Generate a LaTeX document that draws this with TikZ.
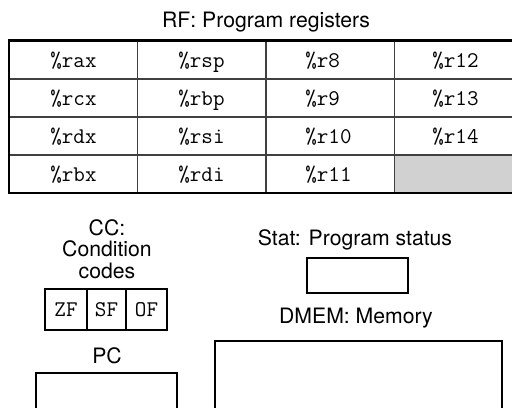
\documentclass[tikz,border=0pt]{standalone}
\usepackage{fontspec}
\newfontfamily\helv{TeX Gyre Heros}
\usepackage{tikz}

\begin{document}
\begin{tikzpicture}[x=0.5pt,y=-0.5pt,
  lbl/.style={anchor=base,inner sep=0pt,font=\helv\fontsize{10.6}{12.7}\selectfont},
  reg/.style={anchor=base west,inner sep=0pt,font=\ttfamily\fontsize{11.2}{13.4}\selectfont},
  outer/.style={line width=1.25pt,black},
  inner/.style={line width=0.6pt,black!75}]
\clip (0,0) rectangle (512,407);
% register file
\node[lbl] (rf) at (266,27) {RF: Program registers};
\fill[black!18] (394.5,155) rectangle (523,193);
\draw[inner] (9,79) -- (523,79);
\draw[inner] (9,117) -- (523,117);
\draw[inner] (9,155) -- (523,155);
\draw[inner] (137.5,40) -- (137.5,193);
\draw[inner] (266,40) -- (266,193);
\draw[inner] (394.5,40) -- (394.5,193);
\draw[outer] (9,40.5) rectangle (523,193);
\node[reg] (rax) at (50,67.5) {\%rax};
\node[reg] (rcx) at (50,105.5) {\%rcx};
\node[reg] (rdx) at (50,143.5) {\%rdx};
\node[reg] (rbx) at (50,181.5) {\%rbx};
\node[reg] (rsp) at (178,67.5) {\%rsp};
\node[reg] (rbp) at (178,105.5) {\%rbp};
\node[reg] (rsi) at (178,143.5) {\%rsi};
\node[reg] (rdi) at (178,181.5) {\%rdi};
\node[reg] (r8) at (305,67.5) {\%r8};
\node[reg] (r9) at (305,105.5) {\%r9};
\node[reg] (r10) at (305,143.5) {\%r10};
\node[reg] (r11) at (305,181.5) {\%r11};
\node[reg] (r12) at (432,67.5) {\%r12};
\node[reg] (r13) at (432,105.5) {\%r13};
\node[reg] (r14) at (432,143.5) {\%r14};
% condition codes
\node[lbl] (cca) at (107,235) {CC:};
\node[lbl] (ccb) at (107,256) {Condition};
\node[lbl] (ccc) at (107,278) {codes};
\draw[outer] (45,289) rectangle (167,330);
\draw[line width=0.9pt] (87,289) -- (87,330);
\draw[line width=0.9pt] (126,289) -- (126,330);
\node[reg,anchor=center] (zf) at (66,310) {ZF};
\node[reg,anchor=center] (sf) at (106.5,310) {SF};
\node[reg,anchor=center] (of) at (146.5,310) {OF};
% program counter
\node[lbl] (pc) at (107,363) {PC};
\draw[outer] (36,373) rectangle (177,430);
% status and memory
\node[lbl] (stat) at (355,245) {Stat: Program status};
\draw[outer] (307,258) rectangle (408,293);
\node[lbl] (dmem) at (356,323) {DMEM: Memory};
\draw[outer] (215,341) rectangle (502,430);
\end{tikzpicture}
\end{document}
